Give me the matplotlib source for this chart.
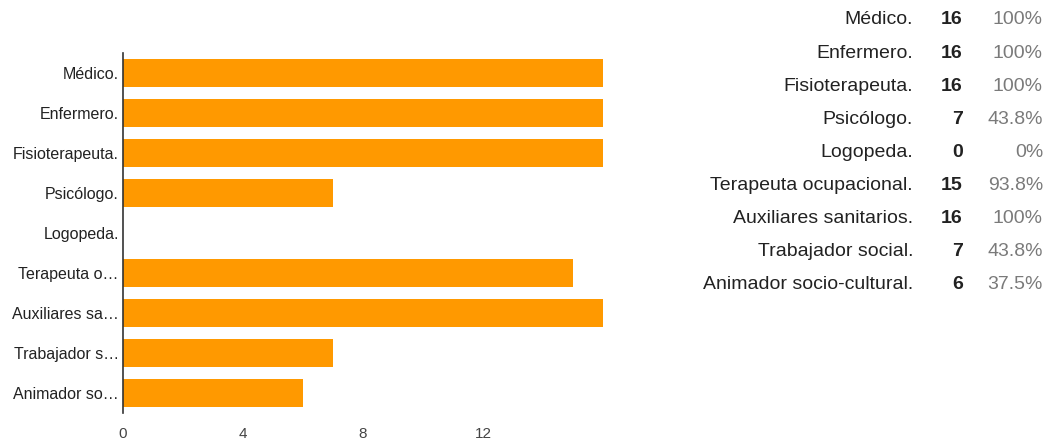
import matplotlib
matplotlib.use("Agg")
import matplotlib.pyplot as plt

plt.rcParams['font.family'] = ['Liberation Sans', 'DejaVu Sans']

short_labels = ["Médico.", "Enfermero.", "Fisioterapeuta.", "Psicólogo.", "Logopeda.",
                "Terapeuta o…", "Auxiliares sa…", "Trabajador s…", "Animador so…"]
full_labels = ["Médico.", "Enfermero.", "Fisioterapeuta.", "Psicólogo.", "Logopeda.",
               "Terapeuta ocupacional.", "Auxiliares sanitarios.", "Trabajador social.",
               "Animador socio-cultural."]
counts = [16, 16, 16, 7, 0, 15, 16, 7, 6]
percents = ["100%", "100%", "100%", "43.8%", "0%", "93.8%", "100%", "43.8%", "37.5%"]
xticks = [0, 4, 8, 12]

W, H = 1049, 442
fig = plt.figure(figsize=(W / 100, H / 100), dpi=100)
ax = fig.add_axes([123 / W, 1 - 413 / H, 480 / W, 360 / H])

n = len(counts)
ypos = list(range(n))
ax.barh(ypos, counts, height=0.7, color="#ff9900")
ax.set_ylim(n - 0.5, -0.5)
ax.set_xlim(0, 16)
ax.set_yticks(ypos)
ax.set_yticklabels(short_labels, fontsize=11.5, color="#222222")
ax.set_xticks(xticks)
ax.set_xticklabels([str(t) for t in xticks], fontsize=11, color="#444444")
ax.tick_params(axis="both", length=0)
ax.tick_params(axis="y", pad=3)
ax.tick_params(axis="x", pad=10)
for s in ["top", "right", "bottom"]:
    ax.spines[s].set_visible(False)
ax.spines["left"].set_color("#333333")
ax.spines["left"].set_linewidth(1.2)

# right-hand table
y0, dy = 20, 33.1
for i in range(n):
    y = 1 - (y0 + i * dy) / H
    fig.text(913 / W, y, full_labels[i], ha="right", va="center", fontsize=14, color="#222222")
    fig.text(963 / W, y, str(counts[i]), ha="right", va="center", fontsize=14,
             color="#222222", fontweight="bold")
    fig.text(1043 / W, y, percents[i], ha="right", va="center", fontsize=14, color="#7a7a7a")

fig.savefig("out.png", dpi=100)
